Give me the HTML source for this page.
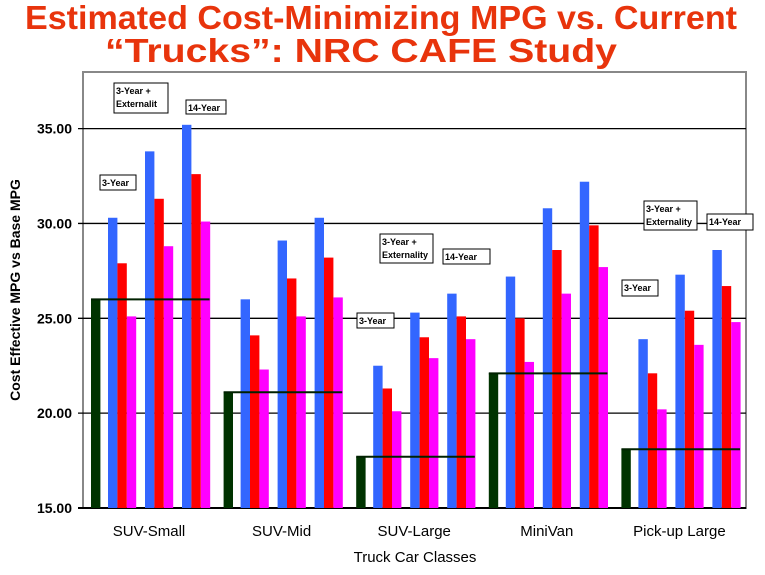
<!DOCTYPE html>
<html><head><meta charset="utf-8"><style>
body{margin:0;background:#fff;}
svg{display:block;font-family:"Liberation Sans",Arial,sans-serif;}
</style></head><body>
<svg id="chart" width="765" height="575" viewBox="0 0 765 575">
<text x="381" y="29" text-anchor="middle" font-size="33" font-weight="bold" fill="#e8340c" textLength="712" lengthAdjust="spacingAndGlyphs">Estimated Cost-Minimizing MPG vs. Current</text>
<text x="361" y="62" text-anchor="middle" font-size="33" font-weight="bold" fill="#e8340c" textLength="512" lengthAdjust="spacingAndGlyphs">“Trucks”:  NRC CAFE Study</text>
<rect x="83" y="72" width="663" height="436" fill="none" stroke="#888" stroke-width="2"/>
<g id="grid"></g><g id="bars"></g><g id="baselines"></g><g id="labels"></g><g id="notes"></g>
<text transform="translate(20,290) rotate(-90)" text-anchor="middle" font-size="14" font-weight="bold">Cost Effective MPG vs Base MPG</text>
<text x="415" y="562" text-anchor="middle" font-size="15">Truck Car Classes</text>
</svg>
<script>
const categories=["SUV-Small","SUV-Mid","SUV-Large","MiniVan","Pick-up Large"];
const baseMPG=[26.0,21.1,17.7,22.1,18.1];
const blue3yrExt=[30.3,26.0,22.5,27.2,23.9];
const red3yrExt=[27.9,24.1,21.3,25.0,22.1];
const mag3yrExt=[25.1,22.3,20.1,22.7,20.2];
const blueMid=[33.8,29.1,25.3,30.8,27.3];
const redMid=[31.3,27.1,24.0,28.6,25.4];
const magMid=[28.8,25.1,22.9,26.3,23.6];
const blue14=[35.2,30.3,26.3,32.2,28.6];
const red14=[32.6,28.2,25.1,29.9,26.7];
const mag14=[30.1,26.1,23.9,27.7,24.8];
const yTicks=[15,20,25,30,35];
const NS="http://www.w3.org/2000/svg";
const X0=83,GW=132.6,BW=9.4;
function y(v){return 508-(v-15)*18.97;}
function gx(i){return X0+i*GW;}
function mk(tag,attrs,parent){const e=document.createElementNS(NS,tag);for(const k in attrs)e.setAttribute(k,attrs[k]);document.getElementById(parent).appendChild(e);return e;}
yTicks.forEach(t=>{
 const l=mk('line',{x1:X0-5,x2:746,y1:y(t),y2:y(t),stroke:'#000','stroke-width':t===15?2:1.3},'grid');
 
 
 const tx=mk('text',{x:72,y:y(t)+5,'text-anchor':'end','font-size':14,'font-weight':'bold'},'labels');
 tx.textContent=t.toFixed(2);
 
 
});
const triplets=[[blue3yrExt,red3yrExt,mag3yrExt],[blueMid,redMid,magMid],[blue14,red14,mag14]];
const colors=['#3366ff','#ff0000','#ff00ff'];
categories.forEach((c,i)=>{
 const g=gx(i);
 const b=mk('rect',{x:g+8,y:y(baseMPG[i]),width:BW,height:508-y(baseMPG[i]),fill:'#003300'},'bars');
 
 
 const bl=mk('line',{x1:g+8,x2:Math.min(g+GW-6,746),y1:y(baseMPG[i]),y2:y(baseMPG[i]),stroke:'#002200','stroke-width':2},'baselines');
 
 
 triplets.forEach((tr,k)=>{
  tr.forEach((arr,j)=>{
   const r=mk('rect',{x:g+25+k*37+j*BW,y:y(arr[i]),width:BW,height:508-y(arr[i]),fill:colors[j]},'bars');
   
   
  });
 });
 const t=mk('text',{x:g+66,y:536,'text-anchor':'middle','font-size':15},'labels');
 t.textContent=c;
 
 
});
const notes=[[114,83,54,30,"3-Year +","Externalit"],[186,100,40,14,"14-Year",""],[100,175,36,15,"3-Year",""],
[380,234,53,29,"3-Year +","Externality"],[443,249,47,15,"14-Year",""],[357,313,37,15,"3-Year",""],
[644,201,53,29,"3-Year +","Externality"],[707,214,46,16,"14-Year",""],[622,280,36,16,"3-Year",""]];
notes.forEach((n,i)=>{
 const r=mk('rect',{x:n[0],y:n[1],width:n[2],height:n[3],fill:'#fff',stroke:'#000','stroke-width':1},'notes');
 
 
 const t=mk('text',{x:n[0]+2,y:n[1]+11,'font-size':9,'font-weight':'bold'},'notes');
 t.textContent=n[4];
 
 
 if(n[5]){const t2=mk('text',{x:n[0]+2,y:n[1]+24,'font-size':9,'font-weight':'bold'},'notes');
 t2.textContent=n[5];
 
 }
});
</script>
</body></html>
